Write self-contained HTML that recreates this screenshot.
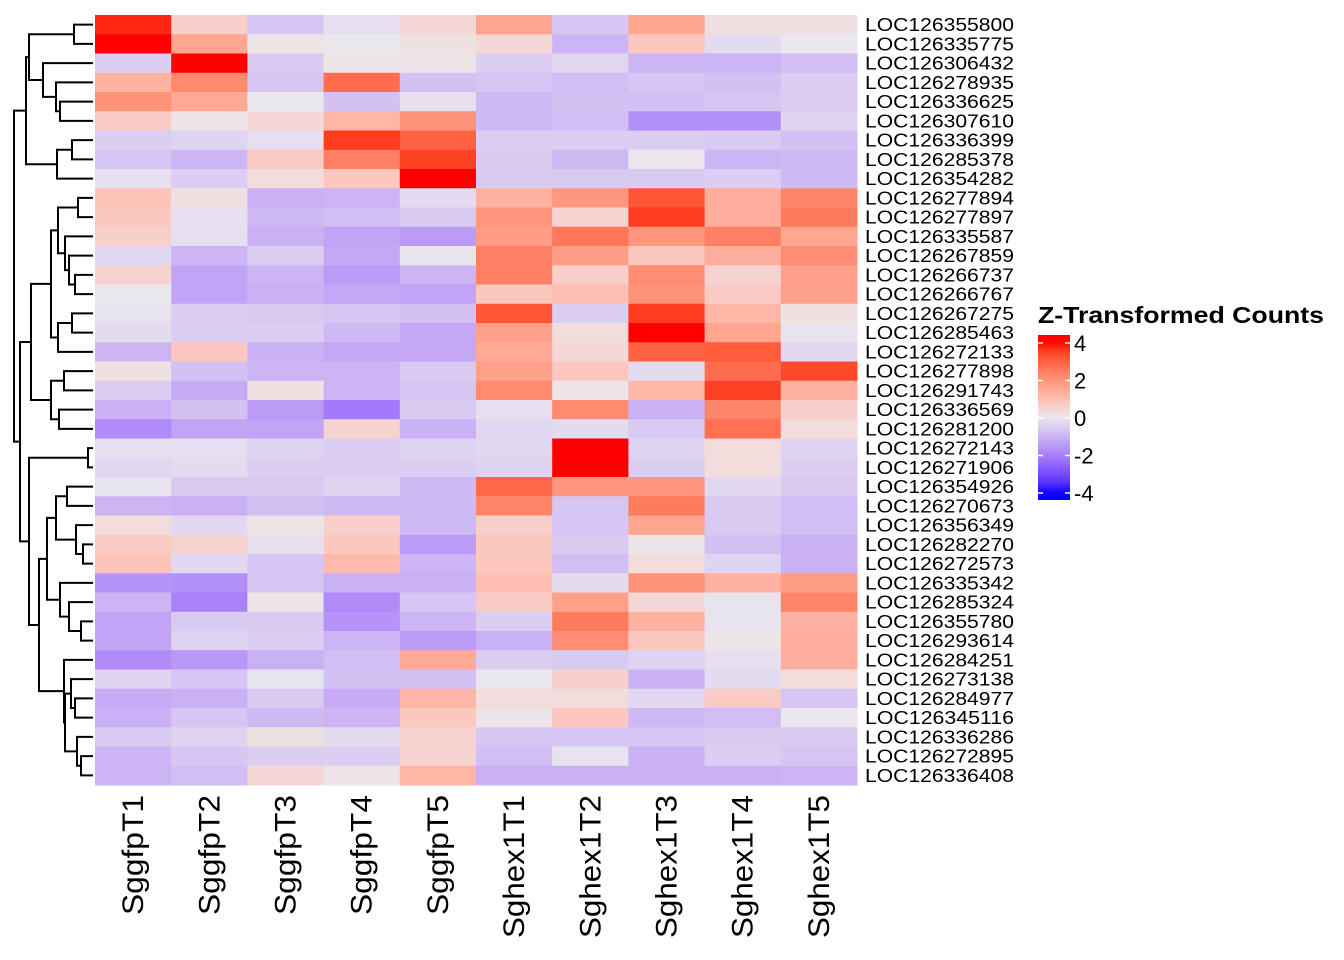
<!DOCTYPE html>
<html><head><meta charset="utf-8">
<style>
html,body{margin:0;padding:0;background:#fff;width:1344px;height:960px;overflow:hidden}
text{font-family:"Liberation Sans",Arial,sans-serif}
</style></head>
<body>
<svg id="chart" width="1344" height="960" xmlns="http://www.w3.org/2000/svg">
<g id="cells"></g>
<g id="dendro"></g>
<g id="rowlabels"></g>
<g id="collabels"></g>
<g id="legend">
  <text x="1038" y="323" font-size="23" font-weight="bold" fill="#000" textLength="286" lengthAdjust="spacingAndGlyphs">Z-Transformed Counts</text>
  <defs><linearGradient id="lg" x1="0" y1="0" x2="0" y2="1"></linearGradient></defs>
  <rect id="lgbar" x="1038" y="335" width="32" height="165" fill="url(#lg)"></rect>
  <g id="lgticks"></g>
</g>
</svg>
<script>
const columns = ["SggfpT1","SggfpT2","SggfpT3","SggfpT4","SggfpT5","Sghex1T1","Sghex1T2","Sghex1T3","Sghex1T4","Sghex1T5"];
const rows = ["LOC126355800","LOC126335775","LOC126306432","LOC126278935","LOC126336625","LOC126307610","LOC126336399","LOC126285378","LOC126354282","LOC126277894","LOC126277897","LOC126335587","LOC126267859","LOC126266737","LOC126266767","LOC126267275","LOC126285463","LOC126272133","LOC126277898","LOC126291743","LOC126336569","LOC126281200","LOC126272143","LOC126271906","LOC126354926","LOC126270673","LOC126356349","LOC126282270","LOC126272573","LOC126335342","LOC126285324","LOC126355780","LOC126293614","LOC126284251","LOC126273138","LOC126284977","LOC126345116","LOC126336286","LOC126272895","LOC126336408"];
const values = [
[3.8,0.6,-0.8,-0.2,0.4,1.6,-0.8,1.6,0.2,0.2],
[4.3,1.6,0.1,0,0.2,0.4,-1.2,0.8,-0.3,0],
[-0.6,4.3,-0.7,0.1,0.1,-0.6,-0.4,-1.2,-1.2,-1],
[1.3,2.2,-0.8,2.8,-0.9,-0.8,-1,-0.8,-0.9,-0.6],
[2.0,1.5,0,-0.9,-0.2,-1.1,-0.9,-0.9,-0.8,-0.6],
[0.7,0.1,0.4,1.2,2.0,-1.1,-1,-2.1,-2.1,-0.5],
[-0.6,-0.5,-0.2,3.6,3.0,-0.6,-0.6,-0.6,-0.7,-0.9],
[-0.8,-1.2,0.7,2.4,3.5,-0.7,-1.1,0,-1.2,-1.1],
[-0.2,-0.6,0.3,0.8,4.2,-0.7,-0.7,-0.7,-0.6,-1.1],
[0.9,0.2,-1.3,-1.2,-0.3,1.3,1.9,3.2,1.4,2.3],
[0.8,-0.2,-1.1,-1,-0.7,1.9,0.5,3.6,1.4,2.5],
[0.6,-0.2,-1.3,-1.6,-1.8,1.8,2.6,1.9,2.4,1.6],
[-0.4,-1.2,-0.6,-1.5,-0.1,2.4,1.8,0.8,1.4,2.1],
[0.5,-1.6,-1.2,-1.8,-1.2,2.4,0.6,2.1,0.5,1.7],
[0,-1.6,-1.3,-1.5,-1.6,0.8,1.0,2.0,0.7,1.7],
[-0.1,-0.6,-0.7,-0.8,-0.9,3.2,-0.6,3.6,1.2,0.2],
[-0.3,-0.6,-0.6,-1.1,-1.5,1.7,0.3,4.1,1.6,-0.1],
[-1.2,0.8,-1.3,-1.5,-1.5,1.5,0.4,3.0,3.1,-0.4],
[0.2,-0.9,-1.2,-1.2,-0.7,1.7,0.8,-0.3,2.8,3.4],
[-0.6,-1.4,0.2,-1.2,-0.8,2.2,0.1,1.2,3.5,1.3],
[-1.3,-0.9,-1.8,-2.6,-0.7,-0.2,2.2,-1.3,2.3,0.6],
[-2.2,-1.6,-1.6,0.5,-1.3,-0.4,-0.3,-0.7,2.7,0.3],
[-0.2,-0.2,-0.5,-0.6,-0.5,-0.4,4.3,-0.5,0.3,-0.5],
[-0.4,-0.3,-0.6,-0.6,-0.6,-0.5,4.3,-0.6,0.3,-0.6],
[-0.1,-0.7,-0.7,-0.5,-1.1,2.9,1.9,1.9,-0.4,-0.7],
[-1.2,-1.3,-0.9,-1.1,-1.1,2.3,-0.8,2.5,-0.7,-1.0],
[0.3,-0.4,0.1,0.6,-1.1,0.6,-0.8,1.6,-0.7,-1.0],
[0.7,0.5,-0.2,0.8,-1.8,0.8,-0.7,0.1,-0.9,-1.3],
[0.9,-0.4,-0.8,1.1,-1.2,0.8,-1.0,0.3,-0.5,-1.3],
[-2.0,-2.1,-0.8,-1.3,-1.3,1.0,-0.3,2.0,1.3,1.8],
[-1.2,-2.4,0.1,-2.2,-0.8,0.7,1.7,0.4,-0.1,2.3],
[-1.6,-0.7,-0.7,-2.0,-1.2,-0.6,2.5,1.3,-0.1,1.3],
[-1.6,-0.5,-0.6,-1.2,-1.8,-1.3,2.1,0.8,0.1,1.4],
[-2.2,-1.9,-1.3,-1.0,1.5,-0.6,-0.7,-0.5,-0.2,1.4],
[-0.5,-0.8,-0.1,-0.9,-0.9,0,0.6,-1.3,-0.3,0.3],
[-1.4,-1.3,-0.7,-1.4,1.2,0.3,0.3,-0.4,0.7,-0.8],
[-1.3,-0.8,-1.1,-1.2,0.8,0.1,0.8,-1.1,-1.0,0],
[-0.7,-0.5,0.2,-0.3,0.5,-0.8,-0.8,-0.8,-0.7,-0.7],
[-1.2,-0.8,-0.6,-0.6,0.5,-1.0,-0.1,-1.3,-0.6,-0.8],
[-1.2,-1.0,0.4,0.1,1.2,-1.3,-1.3,-1.3,-1.3,-1.2]
];
const legendTicks = [4,2,0,-2,-4];

const NS="http://www.w3.org/2000/svg";
const X0=95,X1=857,Y0=15,Y1=785;
const cw=(X1-X0)/columns.length, rh=(Y1-Y0)/rows.length;
const xPos=j=>X0+j*cw, yPos=i=>Y0+i*rh;
function mk(t,a,p){const e=document.createElementNS(NS,t);for(const k in a)e.setAttribute(k,a[k]);(p||document.getElementById('chart')).appendChild(e);return e;}
function srgb2lin(c){c/=255;return c<=0.04045?c/12.92:Math.pow((c+0.055)/1.055,2.4);}
function lin2srgb(c){c=c<=0.0031308?12.92*c:1.055*Math.pow(c,1/2.4)-0.055;return Math.max(0,Math.min(255,Math.round(c*255)));}
function toLab(rgb){const [r,g,b]=rgb.map(srgb2lin);let x=(0.4124*r+0.3576*g+0.1805*b)/0.95047,y=0.2126*r+0.7152*g+0.0722*b,z=(0.0193*r+0.1192*g+0.9505*b)/1.08883;const f=t=>t>0.008856?Math.cbrt(t):7.787*t+16/116;const fx=f(x),fy=f(y),fz=f(z);return [116*fy-16,500*(fx-fy),200*(fy-fz)];}
function fromLab(l){let fy=(l[0]+16)/116,fx=fy+l[1]/500,fz=fy-l[2]/200;const g=t=>t*t*t>0.008856?t*t*t:(t-16/116)/7.787;let x=g(fx)*0.95047,y=g(fy),z=g(fz)*1.08883;const r=3.2406*x-1.5372*y-0.4986*z,gg=-0.9689*x+1.8758*y+0.0415*z,b=0.0557*x-0.2040*y+1.0570*z;return `rgb(${lin2srgb(r)},${lin2srgb(gg)},${lin2srgb(b)})`;}
const LB=toLab([0,0,255]),LW=toLab([234,232,238]),LR=toLab([255,0,0]);
function color(v,leg){v=Math.max(-4.4,Math.min(4.4,v));if(!leg&&v<0)v*=0.82;const t=Math.min(1,Math.abs(v)/4),e=v<0?LB:LR;return fromLab(LW.map((w,k)=>w+(e[k]-w)*t));}

const cells=document.getElementById('cells');
values.forEach((row,i)=>row.forEach((v,j)=>{
  const r=mk('rect',{x:xPos(j),y:yPos(i),width:cw+0.5,height:rh+0.5,fill:color(v)},cells);
  
  
}));
const rl=document.getElementById('rowlabels');
rows.forEach((n,i)=>{
  const t=mk('text',{x:865,y:yPos(i)+rh/2+6.5,'font-size':18,fill:'#000',textLength:149,lengthAdjust:'spacingAndGlyphs'},rl);t.textContent=n;
  
  
});
const cl=document.getElementById('collabels');
columns.forEach((n,j)=>{
  const cx=xPos(j)+cw/2+10;
  const L=n.length===7?120:143;
  const t=mk('text',{x:cx,y:795,'font-size':30,'text-anchor':'end',textLength:L,lengthAdjust:'spacingAndGlyphs',transform:`rotate(-90 ${cx} 795)`,fill:'#000'},cl);t.textContent=n;
  
  
});
const tree=[14,
 [26,[29,[74,0,1],[43,2,[56,3,[60,4,5]]]],[57,[72,6,7],8]],
 [20,
  [31,[51,[58,[78,9,10],[65,11,[69,12,[75,13,14]]]],[58,[72,15,16],17]],[51,[64,18,19],[59,20,21]]],
  [29,[88,22,23],[39,[47,[56,[67,24,25],[76,26,[83,27,28]]],[60,29,[69,30,[81,31,32]]]],[64,33,[65,[71,34,[75,35,36]],[77,37,[81,38,39]]]]]]
 ]];
const dg=document.getElementById('dendro');let d='';
function walk(n){if(typeof n==='number')return {x:93,y:yPos(n)+rh/2};
  const a=walk(n[1]),b=walk(n[2]),x=n[0];
  d+=`M${a.x},${a.y}H${x}V${b.y}H${b.x}`;return {x:x,y:(a.y+b.y)/2};}
walk(tree);
const p=mk('path',{d:d,fill:'none',stroke:'#000','stroke-width':2},dg);


const lg=document.getElementById('lg');
for(let k=0;k<=20;k++){const v=4.4-8.8*k/20;mk('stop',{offset:(k/20),'stop-color':color(v,true)},lg);}
const lt=document.getElementById('lgticks');
const ly=v=>418-v*18.75;
legendTicks.forEach(v=>{
  mk('line',{x1:1038,x2:1043,y1:ly(v),y2:ly(v),stroke:'#fff','stroke-width':1.5},lt);
  mk('line',{x1:1065,x2:1070,y1:ly(v),y2:ly(v),stroke:'#fff','stroke-width':1.5},lt);
  const t=mk('text',{x:1074,y:ly(v)+8,'font-size':22,fill:'#000'},lt);t.textContent=v;
  
  
});
</script>
</body></html>
